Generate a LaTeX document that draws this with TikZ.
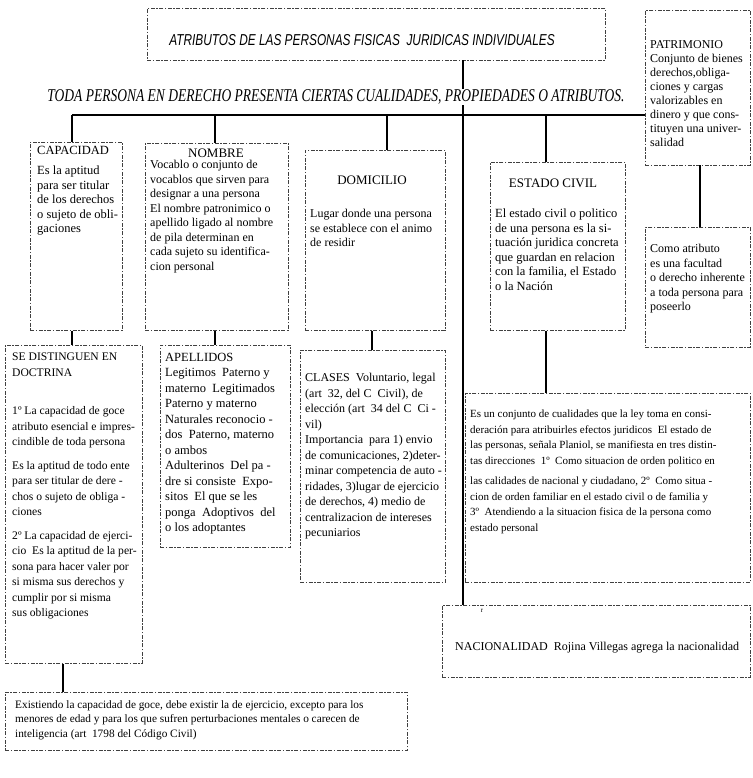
\documentclass[tikz,border=0pt]{standalone}
\usepackage{fontspec}
\setmainfont{Liberation Serif}
\newfontfamily\titlefont{Liberation Sans}[FakeStretch=0.75]
\newfontfamily\subfont{Liberation Serif}[FakeStretch=0.75]
\begin{document}
\begin{tikzpicture}[x=1pt,y=-1pt,
  box/.style={draw=black!75, line width=0.5pt, dash pattern=on 4pt off 1.5pt on 1.5pt off 1.5pt, rectangle, anchor=north west, inner sep=0pt},
  txt/.style={anchor=north west, align=left, inner sep=0pt, font=\fontsize{12}{14.5}\selectfont},
  txtb/.style={anchor=north west, align=left, inner sep=0pt, font=\fontsize{12}{15.5}\selectfont},
  head/.style={inner sep=0pt, font=\fontsize{13}{14}\selectfont},
  conn/.style={line width=1.3pt}]
\useasboundingbox (0,0) rectangle (752,778);

% boxes
\node[box, minimum width=458pt, minimum height=52pt] (title) at (147,8) {};
\node[box, minimum width=105pt, minimum height=155pt] (pat) at (645,10) {};
\node[box, minimum width=92pt, minimum height=188pt] (cap) at (30,142) {};
\node[box, minimum width=143pt, minimum height=187pt] (nom) at (145,143) {};
\node[box, minimum width=140pt, minimum height=180pt] (dom) at (305,150) {};
\node[box, minimum width=135pt, minimum height=168pt] (est) at (490,162) {};
\node[box, minimum width=105pt, minimum height=120pt] (como) at (645,227) {};
\node[box, minimum width=137pt, minimum height=318pt] (sed) at (5,345) {};
\node[box, minimum width=130pt, minimum height=202pt] (ape) at (160,345) {};
\node[box, minimum width=145pt, minimum height=232pt] (cla) at (300,350) {};
\node[box, minimum width=285pt, minimum height=189pt] (ecd) at (465,393) {};
\node[box, minimum width=308pt, minimum height=72pt] (nac) at (442,605) {};
\node[box, minimum width=402pt, minimum height=58pt] (bot) at (5,692) {};

% connector coordinates
\coordinate (b1) at (72,115);
\coordinate (b2) at (215,115);
\coordinate (b3) at (387,115);
\coordinate (b4) at (546,115);
\coordinate (b5) at (645,115);
\coordinate (t0) at (463,115);
\coordinate (c1) at (72,0);
\coordinate (c2) at (215,0);
\coordinate (c3) at (372,0);
\coordinate (c4) at (546,0);
\coordinate (c5) at (700,0);
\coordinate (c6) at (63,0);

\draw[conn] (b1) -- (b5);
\draw[conn] (b1) -- (b1 |- cap.north);
\draw[conn] (b2) -- (b2 |- nom.north);
\draw[conn] (b3) -- (b3 |- dom.north);
\draw[conn] (b4) -- (b4 |- est.north);
\draw[line width=1.8pt] (t0 |- title.south) -- (t0 |- nac.north);
\draw[conn] (c1 |- cap.south) -- (c1 |- sed.north);
\draw[conn] (c2 |- nom.south) -- (c2 |- ape.north);
\draw[conn] (c3 |- dom.south) -- (c3 |- cla.north);
\draw[conn] (c4 |- est.south) -- (c4 |- ecd.north);
\draw[conn] (c5 |- pat.south) -- (c5 |- como.north);
\draw[conn] (c6 |- sed.south) -- (c6 |- bot.north);

% texts
\node[inner sep=0pt, font=\titlefont\itshape\fontsize{15.8}{17}\selectfont] (titlet) at (362,40) {ATRIBUTOS DE LAS PERSONAS FISICAS \ JURIDICAS INDIVIDUALES};
\node[fill=white, inner sep=1pt, font=\subfont\itshape\fontsize{18}{20}\selectfont] (subt) at (336,97) {TODA PERSONA EN DERECHO PRESENTA CIERTAS CUALIDADES, PROPIEDADES O ATRIBUTOS.};

\node[txt, font=\fontsize{12}{14}\selectfont] (patt) at (650,40) {PATRIMONIO\\Conjunto de bienes\\derechos,obliga-\\ciones y cargas\\valorizables en\\dinero y que cons-\\tituyen una univer-\\salidad};

\node[txt, font=\fontsize{12.5}{14.5}\selectfont] (capt) at (37,146) {CAPACIDAD\\[6pt]Es la aptitud\\para ser titular\\de los derechos\\o sujeto de obli-\\gaciones};

\node[head] (nomh) at (216,153) {NOMBRE};
\node[txt] (nomt) at (150,160) {Vocablo o conjunto de\\vocablos que sirven para\\designar a una persona\\El nombre patronimico o\\apellido ligado al nombre\\de pila determinan en\\cada sujeto su identifica-\\cion personal};

\node[head] (domh) at (372,180) {DOMICILIO};
\node[txt] (domt) at (310,209) {Lugar donde una persona\\se establece con el animo\\de residir};

\node[head] (esth) at (553,183) {ESTADO CIVIL};
\node[txt, font=\fontsize{12.5}{14.5}\selectfont] (estt) at (495,209) {El estado civil o politico\\de una persona es la si-\\tuación juridica concreta\\que guardan en relacion\\con la familia, el Estado\\o la Nación};

\node[txt] (comot) at (650,244) {Como atributo\\es una facultad\\o derecho inherente\\a toda persona para\\poseerlo};

\node[txtb, font=\fontsize{11.6}{15.5}\selectfont] (sedt) at (12,353) {SE DISTINGUEN EN\\DOCTRINA\\[23pt]1º La capacidad de goce\\atributo esencial e impres-\\cindible de toda persona\\[8pt]Es la aptitud de todo ente\\para ser titular de dere -\\chos o sujeto de obliga -\\ciones\\[8pt]2º La capacidad de ejerci-\\cio \ Es la aptitud de la per-\\sona para hacer valer por\\si misma sus derechos y\\cumplir por si misma\\sus obligaciones};

\node[txtb, font=\fontsize{12.5}{15.5}\selectfont] (apet) at (165,353) {APELLIDOS\\Legitimos \ Paterno y\\materno \ Legitimados\\Paterno y materno\\Naturales reconocio -\\dos \ Paterno, materno\\o ambos\\Adulterinos \ Del pa -\\dre si consiste \ Expo-\\sitos \ El que se les\\ponga \ Adoptivos \ del\\o los adoptantes};

\node[txtb] (clat) at (305,373) {CLASES \ Voluntario, legal\\(art \ 32, del C \ Civil), de\\elección (art \ 34 del C \ Ci -\\vil)\\Importancia \ para 1) envio\\de comunicaciones, 2)deter-\\minar competencia de auto -\\ridades, 3)lugar de ejercicio\\de derechos, 4) medio de\\centralizacion de intereses\\pecuniarios};

\node[txtb, font=\fontsize{11}{15.5}\selectfont] (ecdt) at (470,410) {Es un conjunto de cualidades que la ley toma en consi-\\deración para atribuirles efectos juridicos \ El estado de\\las personas, señala Planiol, se manifiesta en tres distin-\\tas direcciones \ 1º \ Como situacion de orden politico en\\[5pt]las calidades de nacional y ciudadano, 2º \ Como situa -\\cion de orden familiar en el estado civil o de familia y\\3º \ Atendiendo a la situacion fisica de la persona como\\estado personal};

\node[font=\fontsize{7}{8}\selectfont, inner sep=0pt] (rmark) at (482,611) {r};
\node[txt, anchor=west] (nact) at (455,648) {NACIONALIDAD \ Rojina Villegas agrega la nacionalidad};

\node[txt, font=\fontsize{11.3}{14.5}\selectfont] (bott) at (15,700) {Existiendo la capacidad de goce, debe existir la de ejercicio, excepto para los\\menores de edad y para los que sufren perturbaciones mentales o carecen de\\inteligencia (art \ 1798 del Código Civil)};
\end{tikzpicture}
\end{document}
